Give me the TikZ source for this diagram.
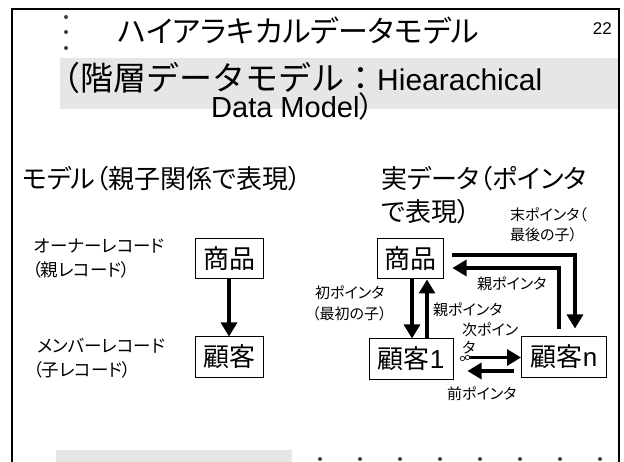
\documentclass[tikz,border=0pt]{standalone}
\usepackage{fontspec}
\setmainfont[RawFeature=+palt]{Noto Sans CJK JP}
\newfontfamily\jfull{Noto Sans CJK JP}
\newfontfamily\lat{Liberation Sans}
\usetikzlibrary{arrows.meta,calc}
\definecolor{bandgray}{RGB}{230,230,230}
\definecolor{dotgray}{RGB}{64,64,64}
\begin{document}
\begin{tikzpicture}[x=1pt,y=-1pt,
  box/.style={draw,line width=1pt,inner sep=0pt,minimum height=40pt,font=\fontsize{26}{26}\selectfont},
  ptr/.style={line width=3.2pt,-{Triangle[length=14pt,width=16pt]}},
  ttl/.style={inner sep=0pt,font=\fontsize{30}{30}\selectfont},
  head/.style={inner sep=0pt,anchor=west,font=\fontsize{26}{26}\selectfont},
  lbl/.style={inner sep=0pt,anchor=west,font=\fontsize{17.5}{17.5}\selectfont},
  sml/.style={inner sep=0pt,anchor=west,font=\fontsize{15}{15}\selectfont},
  dot/.style={fill=dotgray}]
\useasboundingbox (0,0) rectangle (624,462);
\clip (0,0) rectangle (624,462);
% backgrounds
\fill[bandgray] (60,58) rectangle (618,109);
\fill[bandgray] (56,450) rectangle (292,470);
\draw[line width=2pt] (12,9) rectangle (619,480);
% dots
\foreach \yy in {17,32,48} \fill[dot] (66,\yy) circle (2);
\foreach \k in {0,...,7} \fill[dot] (320+40*\k,459) circle (2);
% title
\node[ttl,anchor=west] (t1) at (118,31) {ハイアラキカルデータモデル};
\node[inner sep=0pt,anchor=east,font=\lat\fontsize{17}{17}\selectfont] (pg) at (612,29) {22};
\node[ttl,anchor=base west] (t2) at (47,91) {{\jfull\fontsize{33}{33}\selectfont （階層データモデル：}{\lat Hiearachical}};
\node[ttl,anchor=base west,font=\fontsize{29}{29}\selectfont] (t3) at (211,118) {{\lat Data Model}\raisebox{0pt}[0.72em][0.1em]{）}};
% headings
\node[head] (h1) at (22,179) {モデル（親子関係で表現）};
\node[head] (h2a) at (381,179) {実データ（ポインタ};
\node[head] (h2b) at (381,212) {で表現）};
% left model
\node[lbl] (o1) at (34,246) {オーナーレコード};
\node[lbl] (o2) at (32,270) {（親レコード）};
\node[lbl] (m1) at (37,346) {メンバーレコード};
\node[lbl] (m2) at (33,370) {（子レコード）};
\node[box,minimum width=68pt] (lsh) at (229,259) {商品};
\node[box,minimum width=68pt] (lko) at (229,357) {顧客};
\draw[ptr] (lsh) -- (lko);
% right data
\node[box,minimum width=66pt] (rsh) at (410,259) {商品};
\node[box,minimum width=84pt] (rk1) at (411,359) {顧客{\lat 1}};
\node[box,minimum width=85pt] (rkn) at (564,357) {顧客{\lat n}};
\draw[ptr] ($(rsh.south)+(2,0)$) -- ($(rk1.north)+(1,0)$);
\draw[ptr] ($(rk1.north)+(16,0)$) -- ($(rsh.south)+(17,0)$);
\coordinate (ms) at ($(rsh.east)+(8,-4)$);
\coordinate (me) at ($(rkn.north)+(11,-8)$);
\draw[ptr] (ms) -| (me);
\coordinate (ps) at ($(rkn.north)+(-5,-7)$);
\coordinate (pe) at ($(rsh.east)+(9,9)$);
\draw[ptr] (ps) |- (pe);
\coordinate (ns) at ($(rk1.east)+(14,-1.5)$);
\draw[ptr] (ns) -- (ns -| rkn.west);
\draw[line width=0.6pt,fill=white] ($(ns)+(-5,1)$) circle (2.2) (ns) circle (2.2);
\coordinate (bs) at ($(rkn.west)+(-7,14)$);
\coordinate (be) at ($(rk1.east)+(14,12)$);
\draw[ptr] (bs) -- (be);
% right labels
\node[sml] (l1) at (510,215) {末ポインタ（};
\node[sml] (l2) at (510,235) {最後の子）};
\node[sml] (l3) at (477,284) {親ポインタ};
\node[sml] (l4) at (315,293) {初ポインタ};
\node[sml] (l5) at (312,314) {（最初の子）};
\node[sml] (l6) at (433,310) {親ポインタ};
\node[sml] (l7) at (462,330) {次ポイン};
\node[sml] (l8) at (462,348) {タ};
\node[sml] (l9) at (447,394) {前ポインタ};
\end{tikzpicture}
\end{document}
